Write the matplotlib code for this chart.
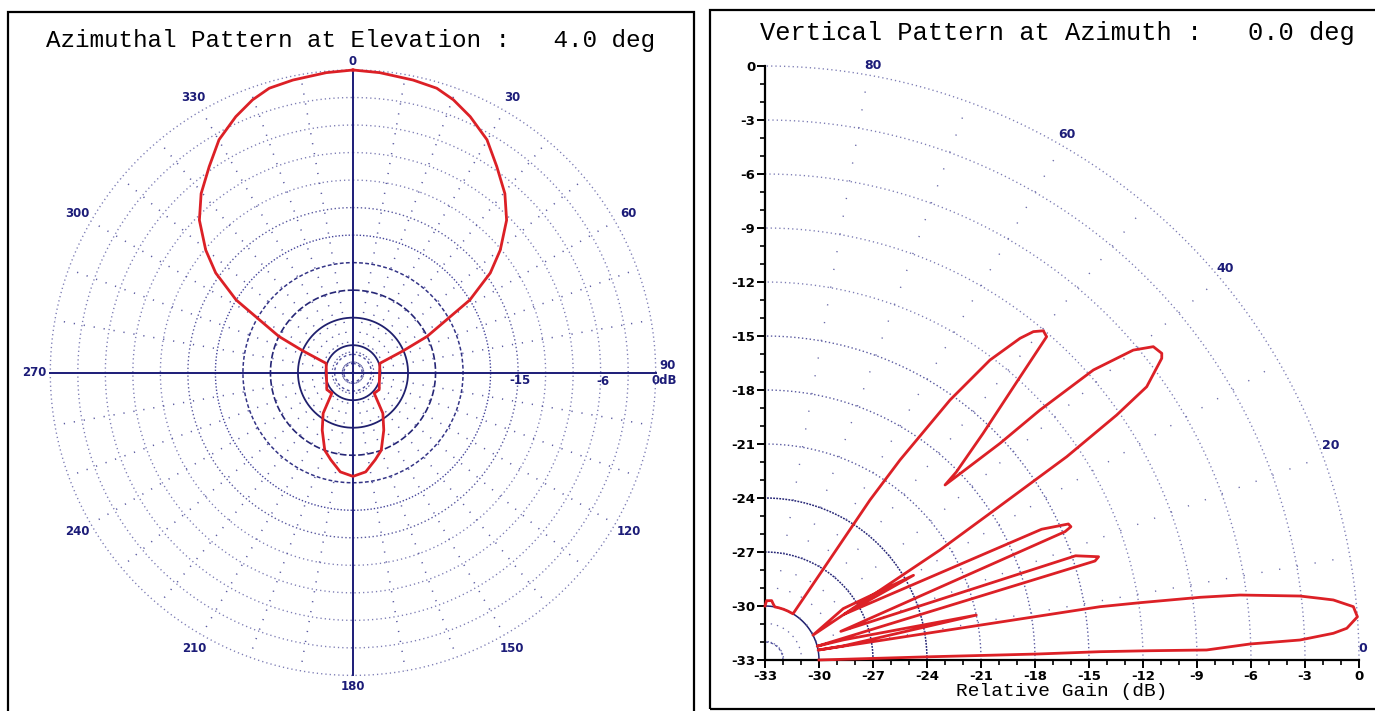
import numpy as np
import matplotlib
matplotlib.use("Agg")
from matplotlib import pyplot as plt
from matplotlib.patches import Rectangle

# azimuthal cut at 4 deg elevation (right half, pattern is symmetric)
az_deg = [0.0, 5.1, 11.6, 16.4, 20.2, 24.6, 29.9, 34.9, 40.3, 45.2, 50.2,
          54.0, 58.1, 63.9, 66.4, 70.8, 123.0, 134.0, 143.7, 151.8, 160.0,
          165.7, 172.7, 180.0]
az_gain = [0.0, -0.16, -0.43, -0.67, -1.3, -2.3, -3.7, -5.6, -7.4, -9.4,
           -12.1, -14.5, -18.0, -24.0, -27.0, -29.9, -29.6, -29.8, -27.5,
           -25.9, -24.0, -23.2, -22.1, -21.7]

# vertical cut at 0 deg azimuth (elevation, gain) in drawing order
el_deg = [0.0, 1.13, 1.21, 1.26, 1.42, 1.38, 1.30, 1.89, 2.14, 2.69, 3.12,
          4.17, 5.18, 6.03, 6.34, 6.82, 7.79, 8.20, 8.69, 9.04, 10.6,
          10.2, 12.0, 14.4, 14.8, 16.7, 17.2, 18.55, 20.7,
          23.16, 23.54, 24.15, 25.3, 30.0, 29.7, 33.3, 27.4,
          32.15, 33.1, 33.97, 34.86, 35.6, 37.25, 37.7, 38.9, 40.08, 41.45,
          42.27, 42.67, 43.74, 44.19,
          44.5, 46.1, 47.8, 48.94, 49.79, 50.74, 51.59, 53.13, 54.56, 55.98,
          56.73, 58.78, 65.0, 70.0, 75.0, 79.5, 81.7, 83.6, 86.8, 88.5, 90.0]
el_gain = [-30.0, -23.74, -20.59, -17.83, -14.38, -11.61, -8.46, -6.04,
           -3.26, -1.39, -0.63, 0.0, -0.18, -1.25, -1.98, -3.07, -6.37,
           -8.58, -11.93, -14.16, -30.0,
           -28.6, -21.0, -28.5, -30.0, -13.86, -13.6, -14.8, -28.5,
           -14.87, -14.46, -14.53, -16.0, -27.9, -23.5, -27.8, -30.0,
           -21.52, -18.08, -12.79, -9.19, -6.92, -5.31, -5.14, -5.28, -6.26,
           -8.66, -12.35, -15.24, -18.13, -19.05,
           -18.1, -15.53, -12.25, -9.18, -9.05, -9.44, -10.19, -12.17,
           -15.27, -19.59, -22.37, -30.0, -30.0, -30.0, -30.0, -30.0,
           -29.85, -29.68, -29.7, -29.7, -30.0]

gain_min = -33
ring_db = [-32, -31, -30, -27, -24, -21, -18, -15, -12, -9, -6, -3, 0]
az_labels = [0, 30, 60, 120, 150, 180, 210, 240, 270, 300, 330]
el_labels = [0, 20, 40, 60, 80]
gain_ticks = list(range(-33, 1, 3))

NAVY = "#1c1c78"
RED = "#dc2026"
MONO = "Liberation Mono"
plt.rcParams["axes.unicode_minus"] = False

DOT = dict(color="#5a5aa0", lw=1.0, ls=(0, (1, 1.8)))
DOT_LIGHT = dict(color="#7c7cb4", lw=1.0, ls=(0, (0.9, 2.2)))


def ring_style(db):
    # grid rings of the azimuth plot
    if db <= -31:
        return dict(color="#5050a0", lw=1.0, ls=(0, (2, 2)))
    if db in (-30, -27):
        return dict(color="#20206e", lw=1.3, ls="-")
    if db == -24:
        return dict(color="#262676", lw=1.2, ls=(0, (4, 1.5)))
    if db == -21:
        return dict(color="#343486", lw=1.1, ls=(0, (2.5, 1.5)))
    if db == -18:
        return dict(color="#44449a", lw=1.0, ls=(0, (1, 1.4)))
    return DOT_LIGHT if db >= -12 else DOT


def arc_style(db):
    # grid arcs of the elevation plot
    if db <= -31:
        return dict(color="#5050a0", lw=0.9, ls=(0, (2, 2)))
    if db == -30:
        return dict(color="#20206e", lw=1.1, ls="-")
    if db in (-27, -24):
        return dict(color="#262676", lw=1.1, ls=(0, (1.2, 0.8)))
    return DOT_LIGHT if db >= -12 else DOT


fig = plt.figure(figsize=(13.75, 7.11), dpi=100)
W, H = 1375.0, 711.0

# panel frames
fig.add_artist(Rectangle((8 / W, -0.05), 686 / W, (H - 12) / H + 0.05,
                         transform=fig.transFigure, fill=False,
                         edgecolor="black", lw=1.6))
fig.add_artist(Rectangle((710 / W, 2 / H), 680 / W, (H - 12) / H,
                         transform=fig.transFigure, fill=False,
                         edgecolor="black", lw=1.6))

# ---------------- left: azimuthal pattern ----------------
cx, cy, R = 353.0, 372.7, 302.7
ax = fig.add_axes([(cx - R) / W, (H - cy - R) / H, 2 * R / W, 2 * R / H],
                  projection="polar")
ax.set_theta_zero_location("N")
ax.set_theta_direction(-1)
ax.set_ylim(gain_min, 0)
ax.set_axis_off()

th = np.linspace(0, 2 * np.pi, 721)
for db in ring_db:
    st = ring_style(db)
    ax.plot(th, np.full_like(th, db), color=st["color"], lw=st["lw"],
            ls=st["ls"], clip_on=False, zorder=1)
for a in range(0, 360, 10):
    if a % 90 == 0:
        continue
    ax.plot([np.radians(a)] * 2, [gain_min, 0], color="#5a5aa0", lw=1.1,
            ls=(0, (0.8, 5.8)), zorder=1)
for a in (0, 90, 180, 270):
    ax.plot([np.radians(a)] * 2, [gain_min, 0], color=NAVY, lw=1.4, zorder=2,
            clip_on=False)

az_half = np.array(az_deg)
g_half = np.array(az_gain)
theta = np.radians(np.concatenate([az_half, 360 - az_half[::-1][1:]]))
gain = np.concatenate([g_half, g_half[::-1][1:]])
ax.plot(theta, gain, color=RED, lw=2.0, zorder=3, clip_on=False)

lab_kw = dict(color=NAVY, fontsize=8.5, fontweight="bold", ha="center",
              va="center", clip_on=False)
for a in az_labels:
    r = 0.9 if a == 0 else (1.2 if a == 180 else 1.7)
    ax.text(np.radians(a), r, str(a), **lab_kw)
ax.text(np.radians(88.6), 1.35, "90", **lab_kw)
ax.text(np.radians(91.5), 0.9, "0dB", **lab_kw)
ax.text(np.radians(92.8), -14.8, "-15", **lab_kw)
ax.text(np.radians(91.9), -5.7, "-6", **lab_kw)

fig.text(351 / W, 1 - 40 / H, "Azimuthal Pattern at Elevation :   4.0 deg",
         family=MONO, fontsize=17.5, ha="center", va="center")

# ---------------- right: vertical pattern ----------------
ox, oy, s = 765.0, 660.0, 18.0
ax2 = fig.add_axes([ox / W, (H - oy) / H, 33 * s / W, 33 * s / H])
ax2.set_xlim(gain_min, 0)
ax2.set_ylim(gain_min, 0)
for sp in ("top", "right"):
    ax2.spines[sp].set_visible(False)
for sp in ("left", "bottom"):
    ax2.spines[sp].set_linewidth(1.6)
ax2.set_xticks(gain_ticks)
ax2.set_yticks(gain_ticks)
ax2.set_xticks(range(-33, 1), minor=True)
ax2.set_yticks(range(-33, 1), minor=True)
ax2.tick_params(which="major", direction="out", length=6, width=1.4,
                labelsize=9.5, pad=1)
ax2.tick_params(which="minor", direction="out", length=3.5, width=1.2)
for t in ax2.get_xticklabels() + ax2.get_yticklabels():
    t.set_fontweight("bold")
ax2.set_xlabel("Relative Gain (dB)", family=MONO, fontsize=14, labelpad=0)

q = np.radians(np.linspace(0, 90, 181))
for db in ring_db:
    if db == -31:
        continue
    st = arc_style(db)
    rr = db - gain_min
    ax2.plot(gain_min + rr * np.cos(q), gain_min + rr * np.sin(q),
             color=st["color"], lw=st["lw"], ls=st["ls"], zorder=1,
             clip_on=False)
for a in range(10, 90, 10):
    ar = np.radians(a)
    ax2.plot([gain_min, gain_min + 33 * np.cos(ar)],
             [gain_min, gain_min + 33 * np.sin(ar)], color="#6a6aa8", lw=1.0,
             ls=(0, (0.9, 12.06)), zorder=1)

el = np.radians(el_deg)
rg = np.array(el_gain) - gain_min
ax2.plot(gain_min + rg * np.cos(el), gain_min + rg * np.sin(el), color=RED,
         lw=2.0, zorder=3, clip_on=False)

lab_pos = {0: (1.15, 33.2), 20: (20.8, 33.6), 40: (40.4, 33.6),
           60: (60.1, 33.65), 80: (79.7, 33.55)}
for e in el_labels:
    ang, rad = lab_pos[e]
    ax2.text(gain_min + rad * np.cos(np.radians(ang)),
             gain_min + rad * np.sin(np.radians(ang)), str(e), color=NAVY,
             fontsize=9, fontweight="bold", ha="center", va="center",
             clip_on=False)

fig.text(1057 / W, 1 - 33 / H, "Vertical Pattern at Azimuth :   0.0 deg",
         family=MONO, fontsize=18.4, ha="center", va="center")

fig.savefig("out.png", dpi=100)
